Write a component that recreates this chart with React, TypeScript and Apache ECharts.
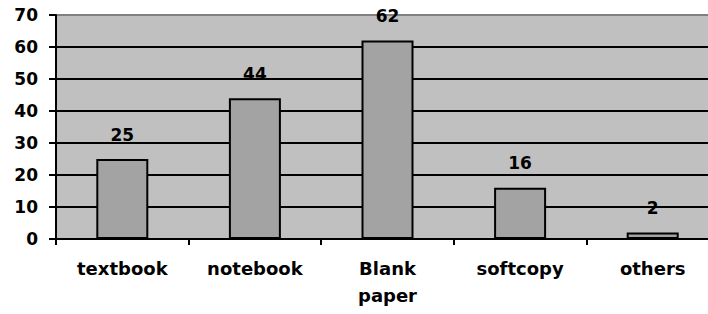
import React, { useEffect, useRef } from "react";
import * as echarts from "echarts";

const categories = ["textbook", "notebook", "Blank\npaper", "softcopy", "others"];
const values = [25, 44, 62, 16, 2];
const yTicks = { min: 0, max: 70, interval: 10 };

export default function App() {
  const ref = useRef<HTMLDivElement>(null);
  useEffect(() => {
    if (!ref.current) return;
    const chart = echarts.init(ref.current, null, { renderer: "svg" });
    const font = "DejaVu Sans";
    chart.setOption({
      animation: false,
      backgroundColor: "#ffffff",
      grid: {
        left: 56,
        top: 15,
        width: 663,
        height: 224,
        show: true,
        backgroundColor: "#c0c0c0",
        borderColor: "#808080",
        borderWidth: 2,
      },
      xAxis: {
        type: "category",
        data: categories,
        axisLine: { lineStyle: { color: "#000", width: 2 } },
        axisTick: { show: true, length: 6, lineStyle: { color: "#000", width: 2 } },
        axisLabel: {
          color: "#000",
          fontFamily: font,
          fontWeight: "bold",
          fontSize: 18,
          lineHeight: 27,
          margin: 16,
          interval: 0,
        },
      },
      yAxis: {
        type: "value",
        min: yTicks.min,
        max: yTicks.max,
        interval: yTicks.interval,
        axisLine: { show: true, lineStyle: { color: "#000", width: 2 } },
        axisTick: { show: true, length: 7, lineStyle: { color: "#000", width: 2 } },
        axisLabel: {
          color: "#000",
          fontFamily: font,
          fontWeight: "bold",
          fontSize: 17,
          margin: 18,
        },
        splitLine: {
          show: true,
          lineStyle: {
            color: ["#000", "#000", "#000", "#000", "#000", "#000", "#000", "#808080"],
            width: 2,
          },
        },
      },
      series: [
        {
          type: "bar",
          data: values,
          barWidth: 52,
          itemStyle: { color: "#a3a3a3", borderColor: "#000", borderWidth: 2 },
          label: {
            show: true,
            position: "top",
            distance: 16,
            color: "#000",
            fontFamily: font,
            fontWeight: "bold",
            fontSize: 17,
          },
        },
      ],
    });
    return () => chart.dispose();
  }, []);
  return (
    <div style={{ position: "fixed", left: 0, top: 0, width: 708, height: 314, overflow: "hidden", background: "#fff" }}>
      <div ref={ref} style={{ width: 722, height: 314 }} />
    </div>
  );
}
